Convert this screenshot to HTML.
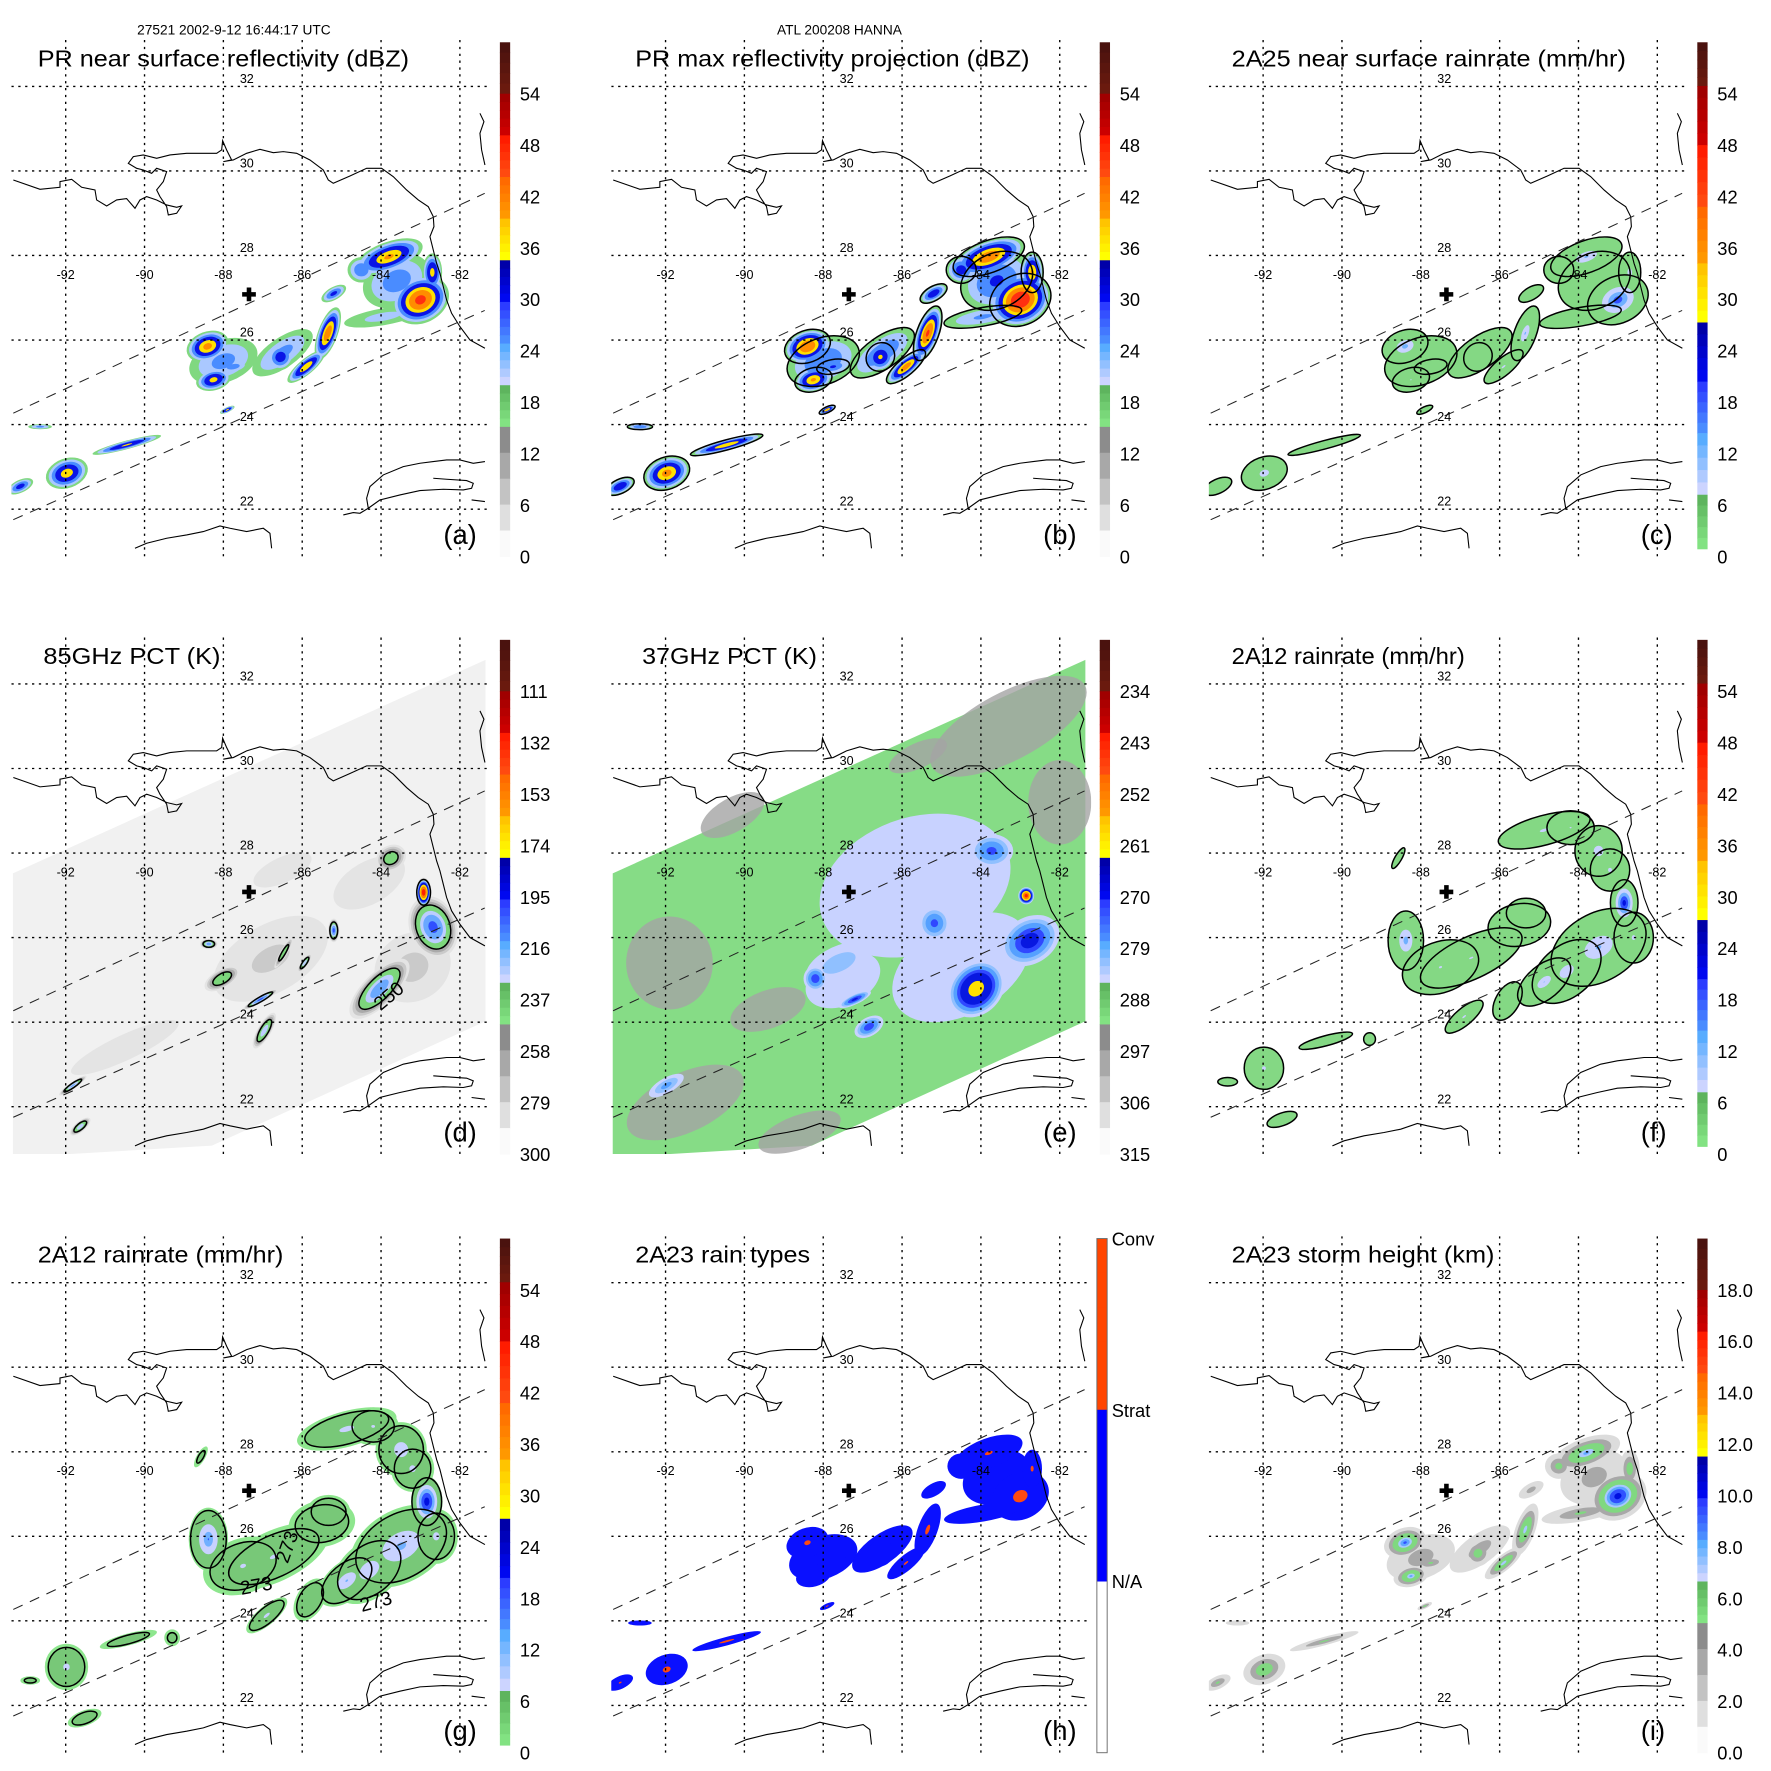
<!DOCTYPE html>
<html>
<head>
<meta charset="utf-8">
<title>TRMM ATL 200208 HANNA</title>
<style>
html,body{margin:0;padding:0;background:#fff;}
svg{display:block;}
text{font-family:"Liberation Sans",Arial,sans-serif;fill:#000;}
</style>
</head>
<body>
<svg id="chart" xmlns="http://www.w3.org/2000/svg" width="1771" height="1771" viewBox="0 0 1550 1550">
  <rect x="0" y="0" width="1550" height="1550" fill="#fff"/>
  <text x="120" y="30" font-size="12">27521 2002-9-12 16:44:17 UTC</text>
  <text x="680" y="30" font-size="12">ATL 200208 HANNA</text>
  <defs id="defs"></defs>
</svg>
<script>
// ---------------- DATA ----------------
// blobs: [lon, lat, rxDeg, ryDeg, rotDeg, peakValue]
const aBlobs = [
 [-83.6,27.4,0.9,0.6,-25,28],[-88.0,25.5,0.9,0.5,-20,27],[-86.5,25.7,0.9,0.35,-35,27],
 [-83.0,26.95,0.75,0.55,-25,47],[-83.8,27.97,0.9,0.35,-20,41],[-82.7,27.6,0.25,0.45,0,38],
 [-83.95,26.55,1.0,0.2,-10,22],[-84.5,27.66,0.35,0.3,0,30],[-85.35,26.16,0.25,0.65,20,44],
 [-85.2,27.1,0.35,0.15,-30,32],[-85.9,25.37,0.6,0.18,-40,40],[-86.55,25.6,0.35,0.3,-45,34],
 [-88.4,25.85,0.55,0.35,-20,42],[-88.25,25.06,0.45,0.25,-15,38],[-87.75,25.37,0.4,0.15,-10,28],
 [-90.45,23.52,0.9,0.1,-15,37],[-91.97,22.85,0.55,0.35,-20,39],[-93.15,22.54,0.35,0.15,-25,33],
 [-87.9,24.35,0.2,0.06,-25,38],[-92.65,23.95,0.3,0.06,0,27]
];
const bBlobs = [
 [-83.6,27.4,0.95,0.65,-25,31],[-88.0,25.5,0.95,0.55,-20,30],[-86.5,25.7,0.95,0.38,-35,30],
 [-83.0,26.95,0.8,0.6,-25,50],[-83.8,27.97,0.95,0.38,-20,44],[-82.7,27.6,0.28,0.48,0,41],
 [-83.95,26.55,1.0,0.22,-10,26],[-84.5,27.66,0.38,0.32,0,33],[-85.35,26.16,0.28,0.68,20,46],
 [-85.2,27.1,0.38,0.17,-30,35],[-85.9,25.37,0.62,0.2,-40,43],[-86.55,25.6,0.38,0.32,-45,37],
 [-88.4,25.85,0.6,0.38,-20,45],[-88.25,25.06,0.48,0.28,-15,41],[-87.75,25.37,0.42,0.17,-10,31],
 [-90.45,23.52,0.95,0.12,-15,40],[-91.97,22.85,0.6,0.38,-20,42],[-93.15,22.54,0.38,0.17,-25,36],
 [-87.9,24.35,0.22,0.07,-25,41],[-92.65,23.95,0.32,0.07,0,30]
];
const cBlobs = [
 [-83.6,27.4,0.95,0.65,-25,7],[-88.0,25.5,0.95,0.55,-20,7],[-86.5,25.7,0.95,0.38,-35,6],
 [-83.0,26.95,0.8,0.55,-25,22],[-83.8,27.97,0.95,0.38,-20,14],[-82.7,27.6,0.28,0.48,0,12],
 [-83.95,26.55,1.05,0.22,-10,6],[-84.5,27.66,0.38,0.32,0,8],[-85.35,26.16,0.28,0.68,20,14],
 [-85.2,27.1,0.35,0.15,-30,6],[-85.9,25.37,0.62,0.2,-40,10],[-86.55,25.6,0.38,0.32,-45,8],
 [-88.4,25.85,0.6,0.38,-20,16],[-88.25,25.06,0.48,0.28,-15,9],[-87.75,25.37,0.42,0.17,-10,6],
 [-90.45,23.52,0.95,0.1,-15,8],[-91.97,22.85,0.6,0.38,-20,12],[-93.15,22.54,0.38,0.17,-25,7],
 [-87.9,24.35,0.22,0.07,-25,6]
];
const dPatches = [
 [-84.3,27.3,1.0,0.5,-30,272],[-86.8,25.5,1.6,0.8,-30,268],[-83.2,25.3,1.0,0.8,-30,266],
 [-90.5,23.4,1.5,0.3,-25,275],[-86.5,27.6,0.8,0.3,-25,278]
];
const dBlobs = [
 [-82.68,26.25,0.6,0.75,-20,205],[-82.92,27.07,0.2,0.35,0,118],[-84.04,24.79,1.0,0.38,-45,212],
 [-83.75,27.88,0.4,0.3,-30,236],[-85.2,26.17,0.14,0.28,0,205],[-86.47,25.64,0.45,0.08,-60,232],
 [-85.94,25.4,0.28,0.08,-55,222],[-88.03,25.03,0.5,0.22,-30,232],[-88.37,25.85,0.22,0.12,0,215],
 [-87.06,24.54,0.5,0.08,-30,205],[-86.96,23.8,0.17,0.48,30,222],[-91.82,22.5,0.42,0.08,-35,218],
 [-91.63,21.53,0.32,0.12,-40,222]
];
const eWarm = [
 [-83.3,31.0,2.2,0.8,-28],[-82.0,29.2,0.8,1.0,0],[-91.9,25.4,1.1,1.1,0],
 [-89.4,24.3,1.0,0.45,-20],[-91.5,22.1,1.6,0.7,-25],[-90.3,28.9,0.9,0.4,-30],[-88.6,21.4,1.1,0.4,-20],
 [-85.6,30.3,0.8,0.3,-25]
];
const eBlobs = [
 [-85.67,27.23,2.5,1.6,-20,284],[-84.5,25.3,1.9,1.1,-30,283],[-87.5,25.0,1.0,0.6,-25,283],
 [-83.73,28.05,0.55,0.4,0,272],[-82.76,25.93,0.8,0.55,-30,266],
 [-82.85,26.99,0.2,0.2,0,238],[-84.12,24.79,0.8,0.6,-45,256],[-85.18,26.34,0.4,0.4,0,272],
 [-88.2,25.03,0.3,0.3,0,270],[-86.84,23.89,0.4,0.22,-30,270],[-91.98,22.5,0.5,0.18,-30,277],
 [-87.2,24.54,0.45,0.12,-25,268],[-87.6,25.4,0.9,0.4,-25,280]
];
const fBlobs = [
 [-87.5,25.3,1.0,0.6,-20,9],[-85.5,26.3,0.8,0.5,-10,8],[-84.3,25.2,1.0,0.6,-40,12],
 [-82.6,26.0,0.5,0.6,0,10],[-85.8,24.5,0.3,0.5,30,8],[-84.2,28.6,0.6,0.4,0,9],[-83.2,27.6,0.5,0.5,0,10],
 [-84.87,28.54,1.2,0.35,-15,10],[-83.49,28.05,0.6,0.6,0,12],[-86.72,25.52,1.4,0.5,-25,9],
 [-88.38,25.93,0.45,0.7,0,16],[-83.49,25.77,1.3,0.8,-30,14],[-82.84,26.82,0.35,0.55,0,28],
 [-84.87,24.95,0.8,0.4,-40,13],[-86.9,24.13,0.6,0.2,-40,10],[-85.33,26.58,0.5,0.35,0,8],
 [-88.57,27.88,0.3,0.08,-60,5],[-91.98,22.91,0.5,0.5,0,10],[-90.41,23.56,0.7,0.12,-15,6],
 [-91.52,21.7,0.4,0.15,-20,6],[-92.9,22.59,0.25,0.1,0,5],[-89.3,23.6,0.15,0.15,0,5]
];
const gBlobs = [
 [-87.5,25.3,1.05,0.65,-20,9],[-85.5,26.3,0.85,0.55,-10,8],[-84.3,25.2,1.05,0.65,-40,12],
 [-82.6,26.0,0.55,0.65,0,10],[-85.8,24.5,0.35,0.55,30,8],[-84.2,28.6,0.65,0.45,0,9],[-83.2,27.6,0.55,0.55,0,10],
 [-84.87,28.54,1.3,0.42,-15,10],[-83.49,28.05,0.65,0.65,0,12],[-86.72,25.52,1.5,0.6,-25,9],
 [-88.38,25.93,0.5,0.75,0,17],[-83.49,25.77,1.4,0.85,-30,14],[-82.84,26.82,0.4,0.6,0,27],
 [-84.87,24.95,0.85,0.45,-40,13],[-86.9,24.13,0.65,0.22,-40,10],[-85.33,26.58,0.55,0.4,0,8],
 [-88.57,27.88,0.3,0.1,-60,4],[-91.98,22.91,0.55,0.55,0,10],[-90.41,23.56,0.75,0.14,-15,6],
 [-91.52,21.7,0.45,0.18,-20,6],[-92.9,22.59,0.25,0.1,0,4],[-89.3,23.6,0.2,0.2,0,4]
];
const hBlobs = [
 [-83.6,27.4,0.9,0.6,-25,1.4],[-88.0,25.5,0.9,0.5,-20,1.4],[-86.5,25.7,0.9,0.35,-35,1.4],
 [-83.0,26.95,0.75,0.55,-25,2.7],[-83.8,27.97,0.9,0.35,-20,2.3],[-82.7,27.6,0.25,0.45,0,2.4],
 [-83.95,26.55,1.0,0.2,-10,1.5],[-84.5,27.66,0.35,0.3,0,1.6],[-85.35,26.16,0.25,0.65,20,2.5],
 [-85.2,27.1,0.35,0.15,-30,1.7],[-85.9,25.37,0.6,0.18,-40,2.3],[-86.55,25.6,0.35,0.3,-45,2.0],
 [-88.4,25.85,0.55,0.35,-20,2.4],[-88.25,25.06,0.45,0.25,-15,1.8],[-87.75,25.37,0.4,0.15,-10,1.6],
 [-90.45,23.52,0.9,0.1,-15,2.6],[-91.97,22.85,0.55,0.35,-20,2.5],[-93.15,22.54,0.35,0.15,-25,2.3],
 [-87.9,24.35,0.2,0.06,-25,2.5],[-92.65,23.95,0.3,0.06,0,1.5]
];
const iBlobs = [
 [-83.6,27.4,0.9,0.6,-25,4],[-88.0,25.5,0.9,0.5,-20,4],[-86.5,25.7,0.9,0.35,-35,4],
 [-83.0,26.95,0.75,0.55,-25,11],[-83.8,27.97,0.9,0.35,-20,8],[-82.7,27.6,0.25,0.45,0,6],
 [-83.95,26.55,1.0,0.2,-10,5],[-84.5,27.66,0.35,0.3,0,5.5],[-85.35,26.16,0.25,0.65,20,7.5],
 [-85.2,27.1,0.35,0.15,-30,4],[-85.9,25.37,0.6,0.18,-40,7.5],[-86.55,25.6,0.35,0.3,-45,6],
 [-88.4,25.85,0.55,0.35,-20,9],[-88.25,25.06,0.45,0.25,-15,8],[-87.75,25.37,0.4,0.15,-10,5],
 [-90.45,23.52,0.9,0.1,-15,5],[-91.97,22.85,0.55,0.35,-20,6.5],[-93.15,22.54,0.35,0.15,-25,5],
 [-87.9,24.35,0.2,0.06,-25,5.5],[-92.65,23.95,0.3,0.06,0,3]
];
// colour scales: [threshold, colour]
const dbzLevels = [[15,'#80d880'],[20,'#aac8ff'],[25,'#4a8cff'],[30,'#0a14e6'],[36,'#ffe000'],[40,'#ff8c00'],[45,'#ff3010'],[50,'#c00000']];
const rainLevels = [[0.5,'#84d884'],[8,'#c8d2ff'],[12,'#70b0ff'],[16,'#3050ff'],[21,'#0010e0'],[27,'#ffe000'],[33,'#ff8000'],[40,'#ff2000']];
const rainLevelsG = [[0.2,'#8ee68e'],[1.5,'#78c878'],[8,'#c8d2ff'],[12,'#70b0ff'],[16,'#3050ff'],[21,'#0010e0'],[27,'#ffe000']];
const pct85Levels = [[284,'#e4e4e4'],[272,'#cacaca'],[262,'#aaaaaa'],[250,'#7cd67c'],[232,'#bccdff'],[222,'#6aa8ff'],[210,'#3050ff'],[195,'#0010d0'],[174,'#ffe000'],[153,'#ff8000'],[132,'#ff2000'],[115,'#c00000']];
const pct37Levels = [[288,'#c8d2ff'],[283,'#90c0ff'],[279,'#55a0ff'],[274,'#3048ff'],[270,'#0818e0'],[261,'#ffe000'],[252,'#ff8000'],[243,'#ff2000'],[234,'#b00000']];
const typeLevels = [[0.5,'#0a10ff'],[2.0,'#ff4a10']];
const heightLevels = [[1,'#dcdcdc'],[3,'#a8a8a8'],[4.5,'#80d880'],[6.7,'#a8c8ff'],[7.5,'#60a8ff'],[8.5,'#3050ff'],[10,'#0010e0'],[12,'#ffd000'],[13.5,'#ff8000']];
// tick labels
const lonTicks = [-92,-90,-88,-86,-84,-82];
const latTicks = [32,30,28,26,24,22];
const dbzTickLabels = ['54','48','42','36','30','24','18','12','6','0'];
const pct85TickLabels = ['111','132','153','174','195','216','237','258','279','300'];
const pct37TickLabels = ['234','243','252','261','270','279','288','297','306','315'];
const heightTickLabels = ['18.0','16.0','14.0','12.0','10.0','8.0','6.0','4.0','2.0','0.0'];
const typeTickLabels = ['Conv','Strat','N/A'];
const stormCenter = [-87.35,27.08];
const tmiSwath = [[-93.34,27.52],[-81.35,32.57],[-81.35,24.02],[-88.29,21.08],[-93.34,20.8]];
const prSwathEdges = [[[-93.33,24.27],[-81.37,29.47]],[[-93.33,21.75],[-81.37,26.7]]];

// ---------------- RENDER ----------------
const NS='http://www.w3.org/2000/svg';
const svg=document.getElementById('chart');
const defs=document.getElementById('defs');
function mk(tag,attrs,parent){const e=document.createElementNS(NS,tag);for(const k in attrs)e.setAttribute(k,attrs[k]);(parent||svg).appendChild(e);return e;}
function hex(c){c=c.replace('#','');if(c.length===3)c=c.split('').map(x=>x+x).join('');return [0,2,4].map(i=>parseInt(c.substr(i,2),16));}
function lerp(a,b,t){const A=hex(a),B=hex(b);return 'rgb('+A.map((v,i)=>Math.round(v+(B[i]-v)*t)).join(',')+')';}

const stdBands=[[0,.1,'#4a120e','#6a1a0e'],[.1,.181,'#a00000','#cc0000'],[.181,.262,'#ff1c00','#ff4a10'],[.262,.343,'#ff6a00','#ff9800'],[.343,.424,'#ffc400','#ffff00'],[.424,.505,'#0000a8','#0008f0'],[.505,.586,'#2c3cff','#4a8cff'],[.586,.667,'#58acff','#ccd4ff'],[.667,.748,'#5eb45e','#82e282'],[.748,1,'#8c8c8c','#fafafa']];
const rainBands=[[0,.085,'#4a120e','#6a1a0e'],[.085,.2,'#a00000','#cc0000'],[.2,.32,'#ff1c00','#ff4a10'],[.32,.43,'#ff6a00','#ff9800'],[.43,.545,'#ffc400','#ffff00'],[.545,.66,'#0000a8','#0008f0'],[.66,.76,'#2c3cff','#4a8cff'],[.76,.88,'#58acff','#ccd4ff'],[.88,.985,'#5eb45e','#82e282']];
const typeBands=[[0,.333,'#ff4500','#ff4500'],[.333,.667,'#0000ff','#0000ff'],[.667,1,'#ffffff','#ffffff']];

const coastPath='M40,240 L120,268 L180,262 L180,245 L215,238 L245,262 L285,270 L290,300 L320,318 L350,300 L380,296 L405,325 L420,300 L440,290 L470,300 L500,315 L530,322 L545,318 L530,340 L505,345 L500,320 L480,290 L470,270 L490,245 L500,215 L470,205 L455,220 L430,210 L410,205 L385,190 L400,170 L430,165 L470,175 L510,165 L560,160 L600,160 L650,160 L665,150 L668,122 L680,150 L695,180 L670,185 L700,180 L740,160 L780,148 L820,158 L850,155 L890,160 L930,180 L970,210 L985,240 L1000,250 L1050,228 L1100,205 L1145,205 L1180,230 L1220,270 L1255,300 L1285,320 L1300,350 L1302,380 L1290,410 L1300,450 L1310,490 L1320,520 L1330,560 L1340,600 L1355,640 L1380,680 L1410,720 L1455,745 M1440,40 L1452,65 L1440,100 L1445,150 L1455,195 M1030,1245 L1060,1238 L1080,1240 L1105,1225 L1100,1195 L1110,1160 L1150,1125 L1210,1100 L1260,1090 L1300,1085 L1340,1080 L1380,1080 L1420,1090 L1455,1085 M1105,1225 L1140,1200 L1200,1185 L1260,1172 L1330,1168 L1390,1170 L1415,1165 L1420,1150 L1400,1142 L1340,1138 L1300,1135 M1415,1200 L1455,1205 M405,1345 L440,1330 L500,1315 L560,1305 L610,1295 L660,1278 L690,1285 L740,1295 L790,1285 L810,1300 L815,1345';

const panels=[
 {k:'a',c:0,r:0,title:'PR near surface reflectivity (dBZ)',tx:33,tw:325,bands:stdBands,ticks:dbzTickLabels},
 {k:'b',c:1,r:0,title:'PR max reflectivity projection (dBZ)',tx:31,tw:345,bands:stdBands,ticks:dbzTickLabels},
 {k:'c',c:2,r:0,title:'2A25 near surface rainrate (mm/hr)',tx:30,tw:345,bands:rainBands,ticks:dbzTickLabels},
 {k:'d',c:0,r:1,title:'85GHz PCT (K)',tx:38,tw:155,bands:stdBands,ticks:pct85TickLabels},
 {k:'e',c:1,r:1,title:'37GHz PCT (K)',tx:37,tw:153,bands:stdBands,ticks:pct37TickLabels},
 {k:'f',c:2,r:1,title:'2A12 rainrate (mm/hr)',tx:30,tw:204,bands:rainBands,ticks:dbzTickLabels},
 {k:'g',c:0,r:2,title:'2A12 rainrate (mm/hr)',tx:33,tw:215,bands:rainBands,ticks:dbzTickLabels},
 {k:'h',c:1,r:2,title:'2A23 rain types',tx:31,tw:153,bands:typeBands,ticks:typeTickLabels},
 {k:'i',c:2,r:2,title:'2A23 storm height (km)',tx:30,tw:230,bands:stdBands,ticks:heightTickLabels}
];
const colX=[0,525,1048], rowY=[0,523,1047];

function drawBlobs(g,X,Y,blobs,levels,dir,kExp,contourIdx,name){
  const L0=levels[0][0];
  levels.forEach((lv,li)=>{
    blobs.forEach(b=>{
      const [lon,lat,rx,ry,rot,pk]=b;
      if(dir*(pk-lv[0])<=0)return;
      const k=Math.pow(dir*(pk-lv[0])/(dir*(pk-L0)),kExp);
      const cx=X(lon),cy=Y(lat);
      const e=mk('ellipse',{cx:cx,cy:cy,rx:rx*34.5*k,ry:ry*37*k,transform:'rotate('+rot+' '+cx+' '+cy+')',fill:lv[1]},g);
      
      
    });
  });
  if(contourIdx>=0){
    const L=levels[contourIdx][0];
    blobs.forEach(b=>{
      const [lon,lat,rx,ry,rot,pk]=b;
      if(dir*(pk-L)<=0)return;
      const k=Math.pow(dir*(pk-L)/(dir*(pk-L0)),kExp);
      const cx=X(lon),cy=Y(lat);
      const e=mk('ellipse',{cx:cx,cy:cy,rx:rx*34.5*k,ry:ry*37*k,transform:'rotate('+rot+' '+cx+' '+cy+')',fill:'none',stroke:'#000','stroke-width':1.3},g);
      
      
    });
  }
}

panels.forEach(p=>{
  const ox=colX[p.c], oy=rowY[p.r];
  const X=lon=>ox+57.5+(lon+92)*34.5;
  const Y=lat=>oy+149.6-(lat-30)*37;
  const cp=mk('clipPath',{id:'clip-'+p.k},defs);
  mk('rect',{x:ox+10,y:oy+35,width:420,height:452},cp);
  const pg=mk('g',{});
  
  
  const g=mk('g',{'clip-path':'url(#clip-'+p.k+')'},pg);
  
  

  if(p.k==='d'||p.k==='e'){
    const poly=mk('polygon',{points:tmiSwath.map(q=>X(q[0])+','+Y(q[1])).join(' '),fill:p.k==='d'?'#f1f1f1':'#86dc86'},g);
    
    
  }
  if(p.k==='e'){
    eWarm.forEach(w=>{
      const cx=X(w[0]),cy=Y(w[1]);
      const e=mk('ellipse',{cx:cx,cy:cy,rx:w[2]*34.5,ry:w[3]*37,transform:'rotate('+w[4]+' '+cx+' '+cy+')',fill:'#a4a4a4',opacity:0.8},g);
      
      
    });
  }
  if(p.k==='a')drawBlobs(g,X,Y,aBlobs,dbzLevels,1,0.6,-1,'reflectivity');
  if(p.k==='b')drawBlobs(g,X,Y,bBlobs,dbzLevels,1,0.6,0,'max-reflectivity');
  if(p.k==='c')drawBlobs(g,X,Y,cBlobs,rainLevels,1,1.5,0,'pr-rainrate');
  if(p.k==='d'){drawBlobs(g,X,Y,dPatches,pct85Levels,-1,0.8,-1,'pct85-patch');drawBlobs(g,X,Y,dBlobs,pct85Levels,-1,0.6,3,'pct85');}
  if(p.k==='e')drawBlobs(g,X,Y,eBlobs,pct37Levels,-1,0.7,-1,'pct37');
  if(p.k==='f')drawBlobs(g,X,Y,fBlobs,rainLevels,1,1.5,0,'tmi-rainrate');
  if(p.k==='g')drawBlobs(g,X,Y,gBlobs,rainLevelsG,1,1.2,1,'tmi-rainrate');
  if(p.k==='h')drawBlobs(g,X,Y,hBlobs,typeLevels,1,1.2,-1,'rain-type');
  if(p.k==='i')drawBlobs(g,X,Y,iBlobs,heightLevels,1,0.9,-1,'storm-height');

  lonTicks.forEach(lon=>{
    const l=mk('line',{x1:X(lon),x2:X(lon),y1:oy+35,y2:oy+487,stroke:'#000','stroke-width':1.2,'stroke-dasharray':'2,4'},g);
    
    
  });
  latTicks.forEach(lat=>{
    const l=mk('line',{x1:ox+10,x2:ox+430,y1:Y(lat),y2:Y(lat),stroke:'#000','stroke-width':1.2,'stroke-dasharray':'2,4'},g);
    
    
  });
  const cg=mk('g',{transform:'translate('+ox+','+(oy+87.5)+') scale(0.2917)'},g);
  const coast=mk('path',{d:coastPath,fill:'none',stroke:'#000','stroke-width':1.1,'vector-effect':'non-scaling-stroke'},cg);
  
  
  prSwathEdges.forEach(s=>{
    const l=mk('line',{x1:X(s[0][0]),y1:Y(s[0][1]),x2:X(s[1][0]),y2:Y(s[1][1]),stroke:'#222','stroke-width':0.9,'stroke-dasharray':'9,7'},g);
    
    
  });
  const clabels=[];
  if(p.k==='d')clabels.push(['250',-83.7,24.5,-40]);
  if(p.k==='g'){clabels.push(['273',-86.23,25.7,-70]);clabels.push(['273',-87.14,24.68,-10]);clabels.push(['273',-84.09,24.31,-15]);}
  clabels.forEach(c=>{
    const t=mk('text',{x:X(c[1]),y:Y(c[2]),'font-size':17,'text-anchor':'middle',transform:'rotate('+c[3]+' '+X(c[1])+' '+Y(c[2])+')'},g);
    t.textContent=c[0];
    
    
  });
  const sx=X(stormCenter[0]),sy=Y(stormCenter[1]);
  const cr=mk('path',{d:'M'+(sx-6)+','+(sy-2)+'h4v-4h4v4h4v4h-4v4h-4v-4h-4z',fill:'#000'},pg);
  
  
  lonTicks.forEach(lon=>{
    const t=mk('text',{x:X(lon),y:oy+244,'font-size':11,'text-anchor':'middle'},pg);
    t.textContent=String(lon);
    
    
  });
  latTicks.forEach(lat=>{
    const t=mk('text',{x:ox+216,y:Y(lat)-3,'font-size':11,'text-anchor':'middle'},pg);
    t.textContent=String(lat);
    
    
  });
  const tt=mk('text',{x:ox+p.tx,y:oy+58,'font-size':20,textLength:p.tw,lengthAdjust:'spacingAndGlyphs'},pg);
  tt.textContent=p.title;
  
  
  const lt=mk('text',{x:ox+388,y:oy+476,'font-size':24},pg);
  lt.textContent='('+p.k+')';
  
  
  const cbx=ox+(p.k==='h'?435:437.5), cby=oy+37, cbh=450, cbw=9;
  const cb=mk('g',{},pg);
  
  
  p.bands.forEach(bd=>{
    const n=5;
    for(let i=0;i<n;i++){
      const f0=bd[0]+(bd[1]-bd[0])*i/n, f1=bd[0]+(bd[1]-bd[0])*(i+1)/n;
      const r=mk('rect',{x:cbx,y:cby+f0*cbh,width:cbw,height:(f1-f0)*cbh+0.5,fill:lerp(bd[2],bd[3],i/(n-1))},cb);
      
      
    }
  });
  if(p.k==='h'){
    const o=mk('rect',{x:cbx,y:cby,width:cbw,height:cbh,fill:'none',stroke:'#666','stroke-width':0.8},cb);
    
    
    p.ticks.forEach((lab,i)=>{
      const t=mk('text',{x:cbx+cbw+4,y:cby+i*150+6,'font-size':16},cb);
      t.textContent=lab;
      
      
    });
  } else {
    p.ticks.forEach((lab,i)=>{
      const t=mk('text',{x:ox+455,y:oy+82+i*45+6,'font-size':16},cb);
      t.textContent=lab;
      
      
    });
  }
});
</script>
</body>
</html>
